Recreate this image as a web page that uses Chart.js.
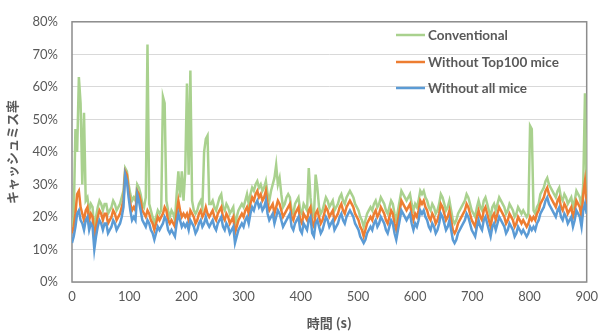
<!DOCTYPE html>
<html>
<head>
<meta charset="utf-8">
<script src="https://cdn.jsdelivr.net/npm/chart.js@4"></script>
<style>
    html, body { margin: 0; padding: 0; background: #ffffff; }
    #wrap { position: relative; width: 605px; height: 333px; }
</style>
</head>
<body>
<div id="wrap"><canvas id="cacheMiss" width="605" height="333"></canvas></div>
<script>
// Time axis (s), one sample every 3 s from 0 to 900
const timeStep = 3;
const times = [];
for (let t = 0; t <= 900; t += timeStep) times.push(t);

const xTicks = [0, 100, 200, 300, 400, 500, 600, 700, 800, 900];
const yTicks = [0, 10, 20, 30, 40, 50, 60, 70, 80];

const seriesNames = ['Conventional', 'Without Top100 mice', 'Without all mice'];

// Cache miss rate (%) - Conventional, 20 values per row = 60 s
const conventional = [
    17, 20, 47, 40, 63, 55, 30, 52, 25, 26, 22, 24, 23, 15, 20, 23, 25, 24, 22, 24,
    24, 21, 22, 23, 25, 24, 22, 23, 24, 26, 28, 35, 34, 30, 27, 25, 26, 25, 30, 29,
    27, 24, 23, 26, 73, 24, 22, 20, 18, 20, 22, 21, 22, 57, 55, 25, 22, 20, 22, 21,
    19, 27, 34, 26, 34, 25, 34, 61, 33, 65, 25, 22, 21, 22, 24, 25, 23, 40, 44, 45,
    24, 24, 25, 23, 22, 24, 26, 27, 23, 22, 24, 23, 21, 22, 23, 17, 20, 22, 23, 24,
    23, 25, 27, 24, 27, 29, 28, 30, 31, 29, 30, 28, 29, 31, 27, 25, 28, 30, 32, 36,
    30, 32, 27, 23, 24, 26, 27, 26, 22, 21, 24, 25, 26, 22, 21, 24, 23, 22, 35, 26,
    21, 20, 33, 29, 23, 21, 22, 24, 26, 25, 23, 24, 25, 22, 23, 24, 26, 27, 25, 24,
    26, 27, 28, 27, 26, 24, 23, 22, 20, 19, 17, 19, 21, 22, 23, 22, 24, 25, 23, 24,
    26, 25, 24, 22, 21, 23, 25, 24, 21, 19, 22, 25, 28, 27, 26, 25, 26, 27, 24, 22,
    24, 23, 25, 28, 27, 28, 26, 25, 23, 22, 24, 23, 21, 22, 24, 27, 26, 24, 22, 23,
    25, 22, 19, 18, 19, 21, 22, 23, 24, 25, 27, 26, 24, 22, 21, 20, 23, 25, 23, 22,
    25, 26, 24, 22, 20, 23, 24, 22, 24, 26, 25, 24, 23, 21, 22, 24, 23, 22, 20, 21,
    23, 22, 21, 22, 21, 20, 21, 48, 47, 22, 21, 23, 24, 27, 28, 29, 31, 32, 30, 29,
    28, 27, 26, 28, 29, 26, 25, 27, 26, 24, 25, 26, 23, 25, 28, 27, 26, 23, 30, 58,
    27
];

// Cache miss rate (%) - Without Top100 mice
const withoutTop100 = [
    15, 17, 21, 27, 28, 23, 21, 19, 22, 23, 19, 21, 20, 13, 17, 20, 22, 21, 19, 21,
    21, 18, 19, 20, 22, 21, 19, 20, 21, 23, 25, 34, 33, 28, 24, 22, 23, 22, 28, 27,
    25, 22, 21, 20, 22, 21, 19, 18, 16, 18, 20, 19, 20, 21, 23, 22, 19, 18, 19, 18,
    17, 21, 25, 22, 20, 21, 20, 21, 19, 22, 21, 20, 18, 19, 21, 22, 20, 21, 23, 21,
    20, 21, 22, 20, 19, 21, 22, 23, 20, 19, 21, 20, 18, 19, 20, 15, 17, 19, 20, 21,
    20, 22, 23, 21, 24, 26, 25, 27, 28, 26, 27, 25, 26, 28, 24, 22, 23, 24, 21, 23,
    25, 24, 22, 20, 21, 22, 23, 24, 20, 19, 21, 22, 23, 19, 18, 21, 20, 19, 22, 23,
    18, 17, 21, 22, 20, 18, 19, 21, 23, 22, 20, 21, 22, 19, 20, 21, 23, 24, 22, 21,
    23, 24, 25, 24, 23, 21, 20, 19, 17, 16, 14, 16, 18, 19, 20, 19, 21, 22, 20, 21,
    23, 22, 21, 19, 18, 20, 22, 21, 18, 16, 19, 22, 25, 24, 23, 22, 23, 24, 21, 19,
    21, 20, 22, 25, 24, 25, 23, 22, 20, 19, 21, 20, 18, 19, 21, 24, 23, 21, 19, 20,
    22, 19, 16, 15, 16, 18, 19, 20, 21, 22, 24, 23, 21, 19, 18, 17, 20, 22, 20, 19,
    22, 23, 21, 19, 17, 20, 21, 19, 21, 23, 22, 21, 20, 18, 19, 21, 20, 19, 17, 18,
    20, 19, 18, 19, 18, 17, 18, 20, 19, 20, 19, 21, 22, 24, 25, 26, 28, 29, 27, 26,
    25, 24, 23, 25, 26, 23, 22, 24, 23, 21, 22, 23, 20, 22, 25, 24, 23, 20, 27, 31,
    24
];

// Cache miss rate (%) - Without all mice
const withoutAll = [
    12, 14, 17, 21, 22, 19, 18, 16, 19, 20, 16, 18, 17, 10, 14, 17, 19, 18, 16, 18,
    18, 15, 16, 17, 19, 18, 16, 17, 18, 20, 23, 33, 31, 26, 22, 19, 20, 19, 27, 25,
    22, 19, 18, 17, 19, 18, 16, 15, 13, 15, 17, 16, 17, 18, 20, 19, 16, 15, 16, 15,
    14, 18, 21, 19, 17, 18, 17, 18, 16, 19, 18, 17, 15, 16, 18, 19, 17, 18, 20, 18,
    17, 18, 19, 17, 16, 18, 19, 20, 17, 16, 18, 17, 15, 16, 17, 12, 14, 16, 17, 18,
    17, 19, 20, 18, 21, 23, 22, 24, 25, 23, 24, 22, 23, 25, 21, 19, 20, 21, 18, 20,
    22, 21, 19, 17, 18, 19, 20, 21, 17, 16, 18, 19, 20, 16, 15, 18, 17, 16, 19, 20,
    15, 14, 18, 19, 17, 15, 16, 18, 20, 19, 17, 18, 19, 16, 17, 18, 20, 21, 19, 18,
    20, 21, 22, 21, 20, 18, 17, 16, 14, 13, 12, 13, 15, 16, 17, 16, 18, 19, 17, 18,
    20, 19, 18, 16, 15, 17, 19, 18, 15, 13, 16, 19, 22, 21, 20, 19, 20, 21, 18, 16,
    18, 17, 19, 22, 21, 22, 20, 19, 17, 16, 18, 17, 15, 16, 18, 21, 20, 18, 16, 17,
    19, 16, 13, 12, 13, 15, 16, 17, 18, 19, 21, 20, 18, 16, 15, 14, 17, 19, 17, 16,
    19, 20, 18, 16, 14, 17, 18, 16, 18, 20, 19, 18, 17, 15, 16, 18, 17, 16, 14, 15,
    17, 16, 15, 16, 15, 14, 15, 17, 16, 17, 16, 18, 19, 21, 22, 23, 25, 26, 24, 23,
    22, 21, 20, 22, 23, 20, 19, 21, 20, 18, 19, 20, 17, 19, 22, 21, 20, 17, 22, 24,
    21
];

const seriesColors = ['#a9d18e', '#ed7d31', '#5b9bd5'];
const textColor = '#595959';

const toPoints = (values) => values.map((v, i) => ({ x: times[i], y: v }));

// Plot area frame, drawn under the lines
const frameBorder = {
    id: 'frameBorder',
    beforeDatasetsDraw: (chart) => {
        const { ctx, chartArea } = chart;
        ctx.save();
        ctx.strokeStyle = '#8c8c8c';
        ctx.lineWidth = 1.5;
        ctx.strokeRect(chartArea.left, chartArea.top,
            chartArea.right - chartArea.left, chartArea.bottom - chartArea.top);
        ctx.restore();
    }
};

// Legend inside the plot area, top right
const insideLegend = {
    id: 'insideLegend',
    afterDraw: (chart) => {
        const { ctx } = chart;
        const x0 = 396, x1 = 425, rows = [35, 62, 88];
        ctx.save();
        ctx.font = 'bold 13.5px Lato';
        ctx.textBaseline = 'middle';
        ctx.textAlign = 'left';
        seriesNames.forEach((name, i) => {
            ctx.strokeStyle = seriesColors[i];
            ctx.lineWidth = 2.5;
            ctx.beginPath();
            ctx.moveTo(x0, rows[i]);
            ctx.lineTo(x1, rows[i]);
            ctx.stroke();
            ctx.fillStyle = textColor;
            ctx.fillText(name, x1 + 3, rows[i] + 1);
        });
        ctx.restore();
    }
};

Chart.defaults.font.family = 'Lato';
Chart.defaults.font.size = 13;
Chart.defaults.color = textColor;

new Chart(document.getElementById('cacheMiss'), {
    type: 'line',
    data: {
        // blue first so it is drawn on top
        datasets: [
            { label: seriesNames[2], data: toPoints(withoutAll), borderColor: seriesColors[2] },
            { label: seriesNames[1], data: toPoints(withoutTop100), borderColor: seriesColors[1] },
            { label: seriesNames[0], data: toPoints(conventional), borderColor: seriesColors[0] }
        ]
    },
    options: {
        responsive: false,
        animation: false,
        layout: { padding: { top: 14, right: 13, left: 0, bottom: 0 } },
        elements: {
            line: { borderWidth: 2.5, tension: 0 },
            point: { radius: 0 }
        },
        plugins: {
            legend: { display: false },
            tooltip: { enabled: false }
        },
        scales: {
            x: {
                type: 'linear',
                min: 0,
                max: 900,
                afterFit: (scale) => { scale.height = 51; },
                afterBuildTicks: (scale) => { scale.ticks = xTicks.map(v => ({ value: v })); },
                grid: { display: false, drawTicks: false },
                border: { display: false },
                ticks: { padding: 7, maxRotation: 0, autoSkip: false },
                title: {
                    display: true,
                    text: '時間 (s)',
                    color: textColor,
                    font: { family: 'Noto Sans CJK JP', size: 13, weight: 'bold' },
                    padding: { top: 0, bottom: 2 }
                }
            },
            y: {
                min: 0,
                max: 80,
                afterFit: (scale) => { scale.width = 72; },
                afterBuildTicks: (scale) => { scale.ticks = yTicks.map(v => ({ value: v })); },
                grid: { color: '#d9d9d9', lineWidth: 1, drawTicks: false },
                border: { display: false },
                ticks: { padding: 14, callback: (v) => v + '%' },
                title: {
                    display: true,
                    text: 'キャッシュミス率',
                    color: textColor,
                    font: { family: 'Noto Sans CJK JP', size: 13, weight: 'bold' },
                    padding: { top: 4, bottom: 0 }
                }
            }
        }
    },
    plugins: [frameBorder, insideLegend]
});
</script>
</body>
</html>
